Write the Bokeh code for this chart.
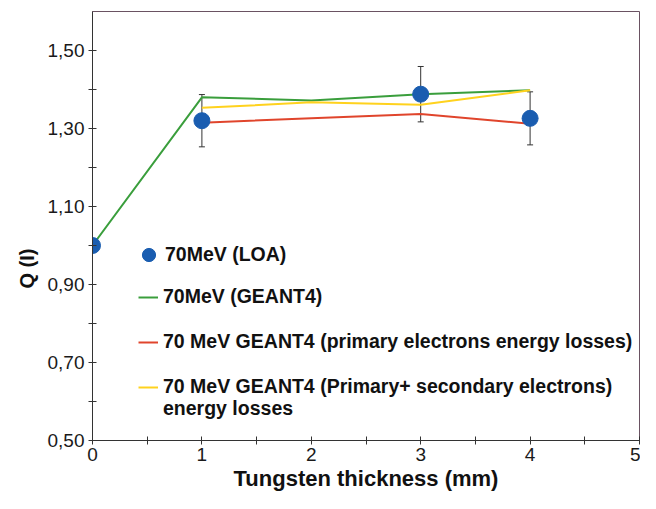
from bokeh.plotting import figure
from bokeh.models import (ColumnDataSource, Whisker, TeeHead, Legend, LegendItem,
                          FixedTicker, CustomJSTickFormatter, Range1d, Title)
from bokeh.embed import file_html
from bokeh.resources import INLINE

# ---- data ----
x_loa = [0, 1, 3, 4]
q_loa = [1.00, 1.32, 1.388, 1.326]
err_loa = [0.0, 0.067, 0.071, 0.068]

x_g4 = [0, 1, 2, 3, 4]
q_g4 = [1.00, 1.380, 1.372, 1.388, 1.398]

x_prim = [1, 2, 3, 4]
q_prim = [1.315, 1.326, 1.337, 1.312]

x_sec = [1, 2, 3, 4]
q_sec = [1.353, 1.367, 1.361, 1.398]

x_ticks = [0, 1, 2, 3, 4, 5]
x_minor = [0.5, 1.5, 2.5, 3.5, 4.5]
y_ticks = [0.5, 0.7, 0.9, 1.1, 1.3, 1.5]
y_minor = [0.6, 0.8, 1.0, 1.2, 1.4]

labels = ["70MeV (LOA)", "70MeV (GEANT4)",
          "70 MeV GEANT4 (primary electrons energy losses)",
          "70 MeV GEANT4 (Primary+ secondary electrons)",
          "energy losses"]

FONT = "Liberation Sans"

p = figure(width=640, height=493, output_backend="svg", toolbar_location=None,
           x_range=Range1d(0, 5), y_range=Range1d(0.5, 1.6),
           min_border_left=92, min_border_top=11, min_border_right=1, min_border_bottom=20)

p.grid.visible = False
p.outline_line_color = "#6a5262"
p.outline_line_width = 1
p.background_fill_color = "white"

# lines
r_g4 = p.line(x_g4, q_g4, line_color="#3a9e3c", line_width=2)
r_prim = p.line(x_prim, q_prim, line_color="#e0452c", line_width=2)
r_sec = p.line(x_sec, q_sec, line_color="#ffd21e", line_width=2)
r_blank = p.line([], [], line_alpha=0)

# error bars
src = ColumnDataSource(dict(x=x_loa, y=q_loa,
                            lo=[a - b for a, b in zip(q_loa, err_loa)],
                            hi=[a + b for a, b in zip(q_loa, err_loa)]))
wh = Whisker(source=src, base="x", lower="lo", upper="hi", line_color="#333333", line_width=1,
             upper_head=TeeHead(size=6, line_color="#333333", line_width=1),
             lower_head=TeeHead(size=6, line_color="#333333", line_width=1))
p.add_layout(wh)

r_loa = p.scatter("x", "y", source=src, size=16, fill_color="#1a5db0", line_color="#1a5db0")

# axes
for ax in (p.xaxis[0], p.yaxis[0]):
    ax.axis_line_color = "#333333"
    ax.major_tick_line_color = "#333333"
    ax.minor_tick_line_color = "#333333"
    ax.major_tick_in = 4
    ax.major_tick_out = 4
    ax.minor_tick_in = 4
    ax.minor_tick_out = 4
    ax.major_label_text_font = FONT
    ax.major_label_text_font_size = "19px"
    ax.major_label_text_color = "#1a1a1a"
    ax.axis_label_text_font = FONT
    ax.axis_label_text_font_style = "bold"
    ax.axis_label_text_color = "#111111"

p.xaxis.ticker = FixedTicker(ticks=x_ticks, minor_ticks=x_minor)
p.yaxis.ticker = FixedTicker(ticks=y_ticks, minor_ticks=y_minor)
p.yaxis.formatter = CustomJSTickFormatter(code="return tick.toFixed(2).replace('.', ',');")
p.xaxis.formatter = CustomJSTickFormatter(code="return tick.toFixed(0);")
p.xaxis.axis_label = "Tungsten thickness (mm)"
p.xaxis.axis_label_text_font_size = "22px"
p.xaxis.major_label_standoff = 3
p.yaxis.major_label_standoff = 4
p.xaxis.axis_label_standoff = 2

ytitle = Title(text="Q (I)", align="left", offset=152, text_font=FONT,
               text_font_style="bold", text_font_size="20px", text_color="#111111",
               standoff=14)
p.add_layout(ytitle, "left")


def make_legend(items, loc, gw, gh, standoff):
    lg = Legend(items=items, location=loc)
    lg.label_text_font = FONT
    lg.label_text_font_style = "bold"
    lg.label_text_font_size = "19.5px"
    lg.label_text_color = "#111111"
    lg.glyph_width = gw
    lg.glyph_height = gh
    lg.label_height = 22
    lg.label_standoff = standoff
    lg.spacing = 22
    lg.padding = 0
    lg.margin = 0
    lg.border_line_alpha = 0
    lg.background_fill_alpha = 0
    p.add_layout(lg)
    return lg


make_legend([LegendItem(label=labels[0], renderers=[r_loa])], (40, 169), 33, 33, -2)
make_legend([LegendItem(label=labels[1], renderers=[r_g4]),
             LegendItem(label=labels[2], renderers=[r_prim]),
             LegendItem(label=labels[3], renderers=[r_sec])], (46, 42), 20, 20, 5)
make_legend([LegendItem(label=labels[4], renderers=[r_blank])], (46, 20), 20, 20, 5)

open("out.html", "w").write(file_html(p, INLINE))
